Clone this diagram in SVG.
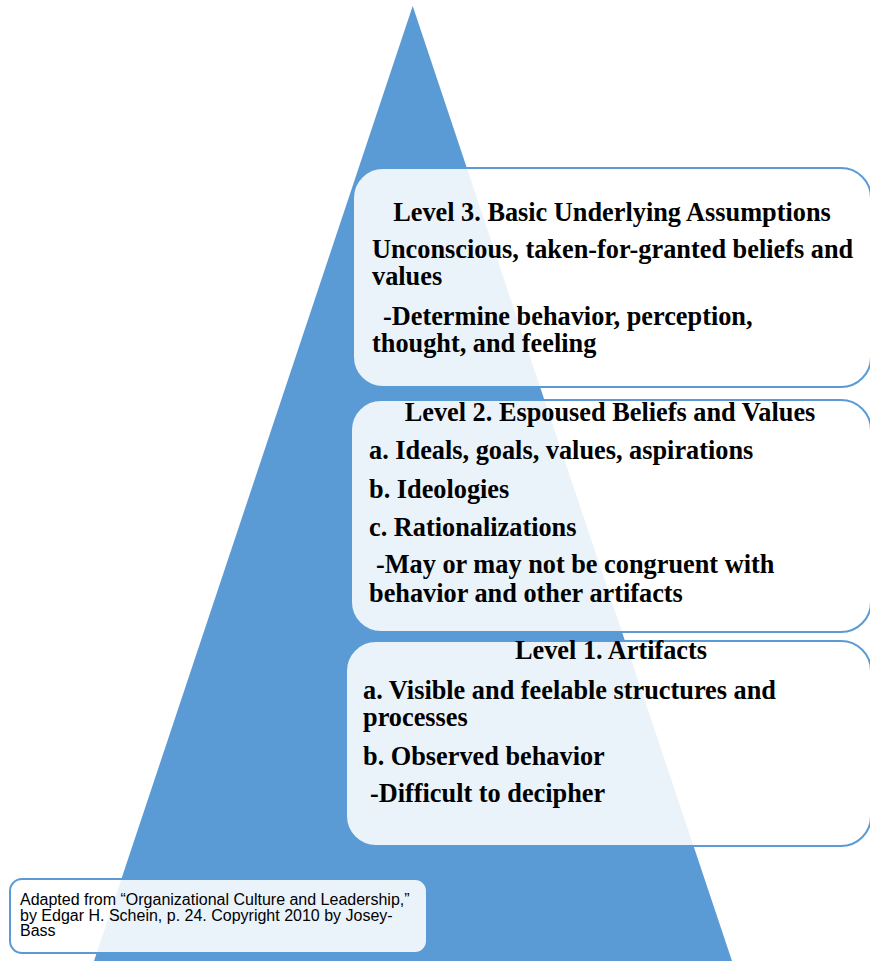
<svg xmlns="http://www.w3.org/2000/svg" width="870" height="961" viewBox="0 0 870 961">
<style>
.box{fill:#ffffff;fill-opacity:0.88;stroke:#5B9BD5;stroke-width:2}
.t{font-family:"Liberation Serif","Times New Roman",serif;font-weight:bold;font-size:26.3px;fill:#000}
.c{font-family:"Liberation Sans",Arial,sans-serif;font-size:16px;fill:#000}
</style>
<rect width="870" height="961" fill="#ffffff"/>
<g id="pyramid">
<polygon points="412.7,6 94,961 732,961" fill="#5B9BD5"/>
</g>
<g id="level3">
<rect class="box" x="353" y="168" width="518" height="219" rx="30" ry="30"/>
<text class="t" x="612" y="221" text-anchor="middle">Level 3. Basic Underlying Assumptions</text>
<text class="t" x="372" y="258">Unconscious, taken-for-granted beliefs and</text>
<text class="t" x="372" y="285">values</text>
<text class="t" x="383" y="325">-Determine behavior, perception,</text>
<text class="t" x="372" y="352">thought, and feeling</text>
</g>
<g id="level2">
<rect class="box" x="351" y="400" width="520" height="232" rx="30" ry="30"/>
<text class="t" x="610" y="421" text-anchor="middle">Level 2. Espoused Beliefs and Values</text>
<text class="t" x="369" y="459">a. Ideals, goals, values, aspirations</text>
<text class="t" x="369" y="498">b. Ideologies</text>
<text class="t" x="369" y="536">c. Rationalizations</text>
<text class="t" x="376" y="573">-May or may not be congruent with</text>
<text class="t" x="369" y="602">behavior and other artifacts</text>
</g>
<g id="level1">
<rect class="box" x="346" y="641" width="525" height="205" rx="30" ry="30"/>
<text class="t" x="611" y="659" text-anchor="middle">Level 1. Artifacts</text>
<text class="t" x="363" y="699">a. Visible and feelable structures and</text>
<text class="t" x="363" y="726">processes</text>
<text class="t" x="363" y="765">b. Observed behavior</text>
<text class="t" x="370" y="802">-Difficult to decipher</text>
</g>
<g id="caption">
<rect class="box" x="10" y="879" width="417" height="74" rx="12" ry="12"/>
<text class="c" x="20" y="905">Adapted from “Organizational Culture and Leadership,”</text>
<text class="c" x="20" y="920.5">by Edgar H. Schein, p. 24. Copyright 2010 by Josey-</text>
<text class="c" x="20" y="936">Bass</text>
</g>
<g id="connectors"/>
</svg>
